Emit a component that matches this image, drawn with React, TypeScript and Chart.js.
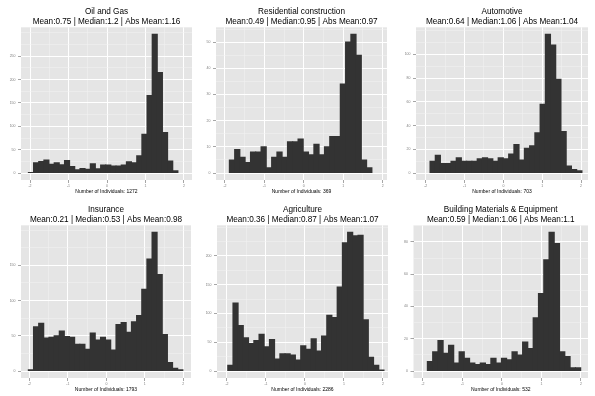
import React, { useEffect, useRef } from "react";
import { Chart, registerables } from "chart.js";
Chart.register(...registerables);

// ---------- data ----------
const panelTitles = [
  "Oil and Gas",
  "Residential construction",
  "Automotive",
  "Insurance",
  "Agriculture",
  "Building Materials & Equipment",
];
const statLines = [
  "Mean:0.75 | Median:1.2 | Abs Mean:1.16",
  "Mean:0.49 | Median:0.95 | Abs Mean:0.97",
  "Mean:0.64 | Median:1.06 | Abs Mean:1.04",
  "Mean:0.21 | Median:0.53 | Abs Mean:0.98",
  "Mean:0.36 | Median:0.87 | Abs Mean:1.07",
  "Mean:0.59 | Median:1.06 | Abs Mean:1.1",
];
const individuals = [1272, 369, 703, 1793, 2286, 532];

const oilGasCounts = [1, 22, 25, 28, 19, 22, 18, 27, 14, 7, 10, 8, 20, 9, 17, 17, 15, 15, 17, 24, 22, 37, 83, 166, 297, 215, 87, 26, 5];
const residentialCounts = [5, 9, 6, 4, 8, 8, 10, 2, 6, 8, 6, 12, 12, 13, 8, 7, 11, 7, 10, 14, 14, 34, 50, 53, 45, 5, 2];
const automotiveCounts = [10, 15, 8, 8, 10, 13, 10, 10, 10, 12, 13, 12, 10, 13, 12, 16, 24, 11, 21, 23, 34, 58, 117, 108, 79, 35, 6, 3, 2];
const insuranceCounts = [2, 63, 68, 47, 48, 50, 57, 49, 48, 38, 38, 31, 54, 44, 48, 44, 30, 66, 69, 55, 70, 79, 116, 159, 197, 137, 52, 12, 4, 2];
const agricultureCounts = [10, 118, 79, 58, 48, 53, 64, 42, 55, 21, 30, 30, 28, 19, 44, 38, 56, 35, 61, 97, 93, 146, 223, 241, 235, 236, 89, 24, 10, 2];
const buildingCounts = [6, 12, 19, 11, 16, 5, 12, 8, 5, 4, 5, 4, 8, 5, 8, 7, 12, 10, 18, 14, 33, 48, 69, 86, 79, 12, 9, 2, 2];

const panelCounts = [oilGasCounts, residentialCounts, automotiveCounts, insuranceCounts, agricultureCounts, buildingCounts];

// first bin left edge and bin width (x units)
const binStarts = [-2.043, -1.89, -1.89, -2.03, -1.98, -1.89];
const binWidths = [0.134, 0.134, 0.135, 0.134, 0.1336, 0.134];

const xMins = [-2.234, -2.228, -2.25, -2.22, -2.255, -2.24];
const xMaxs = [2.208, 2.11, 2.18, 2.2, 2.13, 2.18];

const xTickLabels = [-2, -1, 0, 1, 2];
const oilGasYTicks = [0, 50, 100, 150, 200, 250];
const residentialYTicks = [0, 10, 20, 30, 40, 50];
const automotiveYTicks = [0, 20, 40, 60, 80, 100];
const insuranceYTicks = [0, 50, 100, 150];
const agricultureYTicks = [0, 50, 100, 150, 200];
const buildingYTicks = [0, 20, 40, 60, 80];
const panelYTicks = [oilGasYTicks, residentialYTicks, automotiveYTicks, insuranceYTicks, agricultureYTicks, buildingYTicks];

// ---------- layout (px) ----------
const layouts = [
  { left: 0, top: 0, width: 197, height: 198, axisW: 21, padRight: 5 },
  { left: 197, top: 0, width: 198, height: 198, axisW: 19, padRight: 8 },
  { left: 395, top: 0, width: 200, height: 198, axisW: 21, padRight: 7 },
  { left: 0, top: 198, width: 197, height: 198, axisW: 21, padRight: 6 },
  { left: 197, top: 198, width: 198, height: 198, axisW: 20, padRight: 7 },
  { left: 395, top: 198, width: 200, height: 198, axisW: 18.5, padRight: 7 },
];

const FONT = "'Liberation Sans', Arial, Helvetica, sans-serif";
const PANEL_BG = "#E5E5E5";
const BAR = "#333333";
const TICK_GREY = "#7F7F7F";

const bgPlugin = {
  id: "panelBg",
  beforeDraw(chart: any) {
    const { ctx, chartArea } = chart;
    ctx.save();
    ctx.fillStyle = PANEL_BG;
    ctx.fillRect(chartArea.left, chartArea.top, chartArea.right - chartArea.left, chartArea.bottom - chartArea.top);
    ctx.restore();
  },
};

function withMinors(majors: number[], min: number, max: number): { value: number }[] {
  const step = majors[1] - majors[0];
  const out: number[] = [];
  const first = majors[0] - step;
  const last = majors[majors.length - 1] + step;
  for (let v = first; v <= last + 1e-9; v += step / 2) {
    const r = Math.round(v * 1000) / 1000;
    if (r >= min && r <= max) out.push(r);
  }
  return out.map((value) => ({ value }));
}

function Panel({ idx }: { idx: number }) {
  const ref = useRef<HTMLCanvasElement | null>(null);
  const lay = layouts[idx];
  useEffect(() => {
    if (!ref.current) return;
    const counts = panelCounts[idx];
    const start = binStarts[idx];
    const w = binWidths[idx];
    const yMajors = panelYTicks[idx];
    const maxCount = Math.max(...counts);
    const yMin = -0.05 * maxCount;
    const yMax = 1.05 * maxCount;
    const xMin = xMins[idx];
    const xMax = xMaxs[idx];
    const isMajorX = (v: number) => xTickLabels.some((m) => Math.abs(m - v) < 1e-6);
    const isMajorY = (v: number) => yMajors.some((m) => Math.abs(m - v) < 1e-6);

    const chart = new Chart(ref.current, {
      type: "bar",
      data: {
        datasets: [
          {
            data: counts.map((c, i) => ({ x: start + (i + 0.5) * w, y: c })),
            backgroundColor: BAR,
            borderWidth: 0,
            inflateAmount: 0.5,
            barPercentage: 1,
            categoryPercentage: 1,
          } as any,
        ],
      },
      options: {
        animation: false,
        responsive: false,
        maintainAspectRatio: false,
        events: [],
        layout: { padding: { left: 0, right: lay.padRight, top: 0, bottom: 0 } },
        plugins: {
          legend: { display: false },
          tooltip: { enabled: false },
          title: {
            display: true,
            fullSize: false,
            text: [panelTitles[idx], statLines[idx]],
            color: "#000",
            font: { family: FONT, size: 8.2, weight: "normal", lineHeight: 1.3 },
            padding: { top: 6, bottom: 0 },
          },
        },
        scales: {
          x: {
            type: "linear",
            min: xMin,
            max: xMax,
            offset: false,
            border: { display: false },
            grid: {
              offset: false,
              color: (c: any) => (c.tick && isMajorX(c.tick.value) ? "#FFFFFF" : "#F2F2F2"),
              lineWidth: (c: any) => (c.tick && isMajorX(c.tick.value) ? 1 : 0.5),
              tickColor: (c: any) => (c.tick && isMajorX(c.tick.value) ? TICK_GREY : "rgba(0,0,0,0)"),
              tickLength: 3,
              tickWidth: 0.7,
            },
            ticks: {
              autoSkip: false,
              maxRotation: 0,
              minRotation: 0,
              padding: 1,
              color: TICK_GREY,
              font: { family: FONT, size: 3.5 },
              callback: (v: any) => (isMajorX(Number(v)) ? String(Math.round(Number(v))) : ""),
            },
            afterBuildTicks: (s: any) => {
              s.ticks = withMinors(xTickLabels, xMin, xMax);
            },
            afterFit: (s: any) => {
              s.height = 18;
            },
            title: {
              display: true,
              text: "Number of Individuals: " + individuals[idx],
              color: "#000",
              font: { family: FONT, size: 5, lineHeight: 1.2 },
              padding: { top: 0, bottom: 3 },
            },
          },
          y: {
            type: "linear",
            min: yMin,
            max: yMax,
            border: { display: false },
            grid: {
              color: (c: any) => (c.tick && isMajorY(c.tick.value) ? "#FFFFFF" : "#F2F2F2"),
              lineWidth: (c: any) => (c.tick && isMajorY(c.tick.value) ? 1 : 0.5),
              tickColor: (c: any) => (c.tick && isMajorY(c.tick.value) ? TICK_GREY : "rgba(0,0,0,0)"),
              tickLength: 3,
              tickWidth: 0.7,
            },
            ticks: {
              autoSkip: false,
              padding: 2.5,
              color: TICK_GREY,
              font: { family: FONT, size: 3.5 },
              callback: (v: any) => (isMajorY(Number(v)) ? String(Math.round(Number(v))) : ""),
            },
            afterBuildTicks: (s: any) => {
              s.ticks = withMinors(yMajors, yMin, yMax);
            },
            afterFit: (s: any) => {
              s.width = lay.axisW;
            },
          },
        },
      } as any,
      plugins: [bgPlugin],
    });
    return () => chart.destroy();
  }, [idx]);

  return (
    <canvas
      ref={ref}
      width={lay.width}
      height={lay.height}
      style={{ position: "absolute", left: lay.left, top: lay.top, width: lay.width, height: lay.height }}
    />
  );
}

export default function App() {
  return (
    <div style={{ position: "absolute", left: 0, top: 0, width: 595, height: 396, background: "#FFFFFF", overflow: "hidden" }}>
      {panelTitles.map((_, i) => (
        <Panel key={i} idx={i} />
      ))}
    </div>
  );
}
